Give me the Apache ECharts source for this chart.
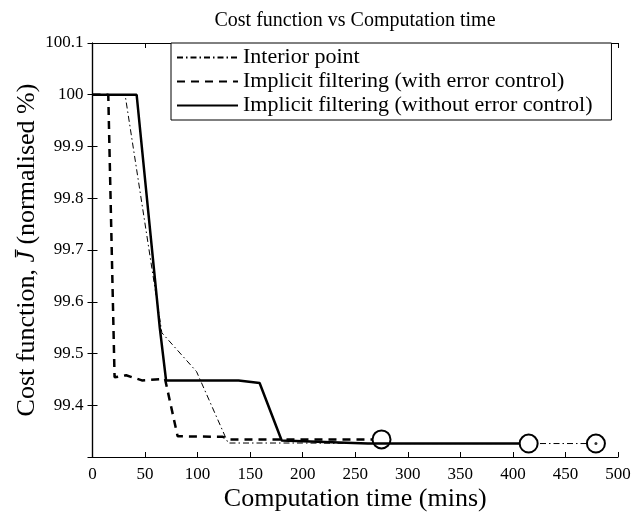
<!DOCTYPE html>
<html>
<head>
<meta charset="utf-8">
<script src="https://cdn.jsdelivr.net/npm/echarts@6/dist/echarts.min.js"></script>
<style>
  html, body { margin: 0; padding: 0; background: #fff; }
  #chart { width: 634px; height: 515px; }
</style>
</head>
<body>
<div id="chart"></div>
<script>
// Computation time (mins) and normalised cost for each optimiser
const interiorTime = [0, 31, 66, 99, 129, 200, 275, 415, 479];
const interiorCost = [100, 100, 99.54, 99.465, 99.327, 99.327, 99.326, 99.326, 99.326];

const withErrTime = [0, 15, 21, 32, 47, 69, 81, 124, 131, 200, 275];
const withErrCost = [100, 100, 99.454, 99.458, 99.448, 99.451, 99.340, 99.339, 99.334, 99.334, 99.334];

const withoutErrTime = [0, 42, 64, 70, 139, 159, 180, 262, 415];
const withoutErrCost = [100, 100, 99.55, 99.448, 99.448, 99.443, 99.332, 99.326, 99.326];

const seriesNames = [
  'Interior point',
  'Implicit filtering (with error control)',
  'Implicit filtering (without error control)'
];

const xTicks = { min: 0, max: 500, step: 50 };
const yTicks = { min: 99.3, max: 100.1, step: 0.1 };

const FONT = 'Liberation Serif';

// Pair up times and costs; the final point of each run gets a ring marker
function toPoints(xs, ys) {
  return xs.map((x, i) => {
    const p = { value: [x, ys[i]] };
    if (i === xs.length - 1) {
      p.symbol = 'emptyCircle';
      p.symbolSize = 18;
    }
    return p;
  });
}

const chart = echarts.init(document.getElementById('chart'), null, { renderer: 'canvas' });

const axisCommon = {
  axisLine: { show: true, lineStyle: { color: '#000', width: 1.2 } },
  axisTick: { show: true, inside: true, length: 5, lineStyle: { color: '#000', width: 1 } },
  splitLine: { show: false }
};

chart.setOption({
  animation: false,
  backgroundColor: '#fff',
  title: {
    text: 'Cost function vs Computation time',
    left: 350,
    top: 6,
    textAlign: 'center',
    textStyle: { fontFamily: FONT, fontWeight: 'normal', fontSize: 20, color: '#000' }
  },
  grid: { left: 92.5, right: 16, top: 43, bottom: 58, containLabel: false, outerBoundsMode: 'none' },
  legend: {
    data: seriesNames,
    orient: 'vertical',
    left: 171,
    top: 43,
    padding: [3.5, 19, 3.5, 5],
    itemGap: 2,
    itemWidth: 61,
    itemHeight: 6,
    backgroundColor: '#fff',
    borderColor: '#000',
    borderWidth: 1,
    borderRadius: 0,
    itemStyle: { color: 'rgba(0,0,0,0)', borderColor: 'rgba(0,0,0,0)', borderWidth: 0 },
    textStyle: { fontFamily: FONT, fontSize: 22, color: '#000', padding: [0, 0, 0, 0] }
  },
  xAxis: [
    Object.assign({}, axisCommon, {
      type: 'value',
      min: xTicks.min, max: xTicks.max, interval: xTicks.step,
      position: 'bottom',
      name: 'Computation time (mins)',
      nameLocation: 'middle',
      nameGap: 29,
      nameMoveOverlap: false,
      nameTextStyle: { fontFamily: FONT, fontSize: 26, color: '#000' },
      axisLabel: { fontFamily: FONT, fontSize: 17, color: '#000', margin: 9 }
    }),
    Object.assign({}, axisCommon, {
      type: 'value',
      min: xTicks.min, max: xTicks.max, interval: xTicks.step,
      position: 'top',
      axisLabel: { show: false }
    })
  ],
  yAxis: [
    Object.assign({}, axisCommon, {
      type: 'value',
      min: yTicks.min, max: yTicks.max, interval: yTicks.step,
      position: 'left',
      name: '{n|Cost function, }{j|J̄}{n| (normalised %)}',
      nameLocation: 'middle',
      nameGap: 52,
      nameMoveOverlap: false,
      nameTextStyle: {
        rich: {
          n: { fontFamily: FONT, fontSize: 26, color: '#000' },
          j: { fontFamily: FONT, fontSize: 26, fontStyle: 'italic', color: '#000' }
        }
      },
      axisLabel: {
        fontFamily: FONT, fontSize: 17, color: '#000', margin: 9,
        showMinLabel: false,
        formatter: v => String(Number(v.toFixed(1)))
      }
    }),
    Object.assign({}, axisCommon, {
      type: 'value',
      min: yTicks.min, max: yTicks.max, interval: yTicks.step,
      position: 'right',
      axisLabel: { show: false }
    })
  ],
  series: [
    {
      name: seriesNames[0],
      type: 'line',
      symbol: 'none',
      data: toPoints(interiorTime, interiorCost),
      lineStyle: { color: '#000', width: 1, type: [6, 3, 1.5, 3] },
      itemStyle: { color: '#000', borderColor: '#000', borderWidth: 1 },
      z: 2
    },
    {
      name: seriesNames[1],
      type: 'line',
      symbol: 'none',
      data: toPoints(withErrTime, withErrCost),
      lineStyle: { color: '#000', width: 2.5, type: [8, 6] },
      itemStyle: { color: '#000', borderColor: '#000', borderWidth: 1 },
      z: 3
    },
    {
      name: seriesNames[2],
      type: 'line',
      symbol: 'none',
      data: toPoints(withoutErrTime, withoutErrCost),
      lineStyle: { color: '#000', width: 2.5, type: 'solid' },
      itemStyle: { color: '#000', borderColor: '#000', borderWidth: 1 },
      z: 4
    },
    {
      // centre dot of the interior-point end marker
      name: 'end',
      type: 'scatter',
      symbol: 'circle',
      symbolSize: 3,
      itemStyle: { color: '#000' },
      data: [[interiorTime[interiorTime.length - 1], interiorCost[interiorCost.length - 1]]],
      z: 5
    }
  ]
});
</script>
</body>
</html>
